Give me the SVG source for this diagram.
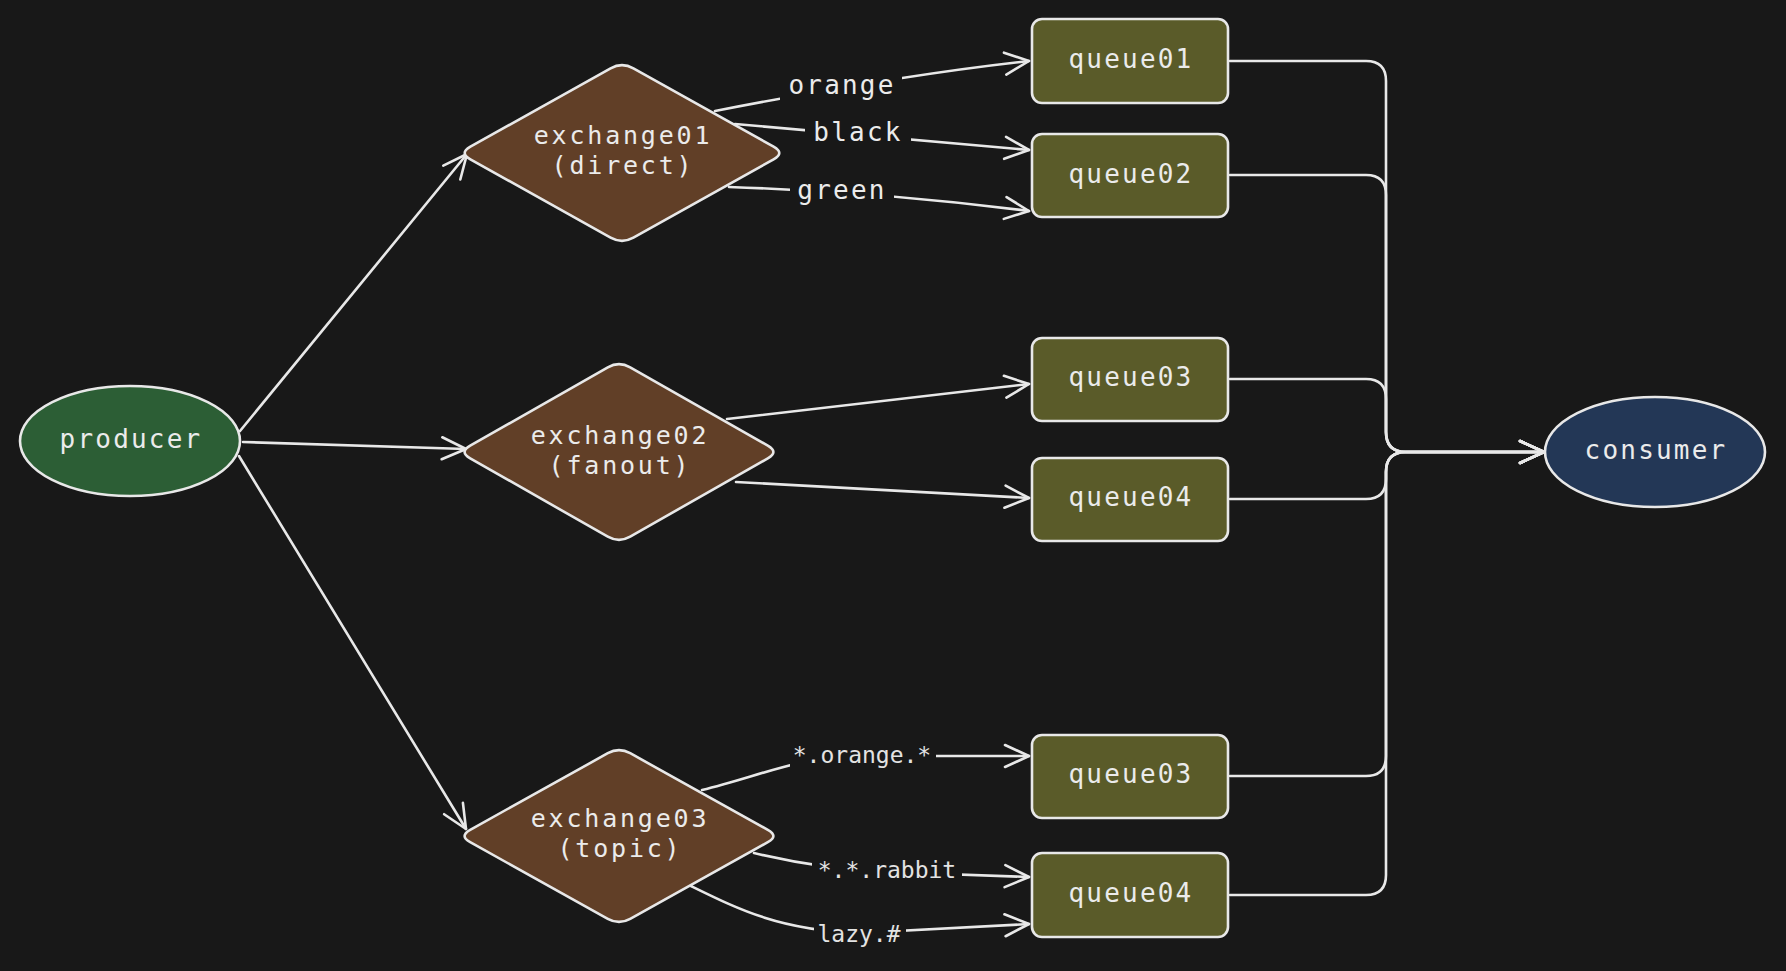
<svg xmlns="http://www.w3.org/2000/svg" width="1786" height="971" viewBox="0 0 1786 971">
<style>
.bg{fill:#181818}
.edge{fill:none;stroke:#e8e8e8;stroke-width:2.6;stroke-linecap:round;stroke-linejoin:round}
.node{stroke:#e8e8e8;stroke-width:2.6}
.t{font-family:"DejaVu Sans Mono","Liberation Mono",monospace;font-size:26px;letter-spacing:2.2px;fill:#ebebeb;text-anchor:middle}
.tx{font-family:"DejaVu Sans Mono","Liberation Mono",monospace;font-size:25px;letter-spacing:2.8px;fill:#ebebeb;text-anchor:middle}
.ts{font-family:"DejaVu Sans Mono","Liberation Mono",monospace;font-size:23px;fill:#e3e3e3;text-anchor:middle}
.lb{fill:#181818}
</style>
<defs>
<marker id="arr" viewBox="0 0 28 26" refX="26" refY="13" markerWidth="28" markerHeight="26" orient="auto" markerUnits="userSpaceOnUse">
<path d="M2,2 L26,13 L2,24" fill="none" stroke="#e8e8e8" stroke-width="2.6" stroke-linecap="round" stroke-linejoin="round"/>
</marker>
</defs>
<rect class="bg" x="0" y="0" width="1786" height="971"/>

<g id="connectors">
<path class="edge" d="M240,431 L467,154" marker-end="url(#arr)"/>
<path class="edge" d="M243,442 L466,449" marker-end="url(#arr)"/>
<path class="edge" d="M239,456 L466,829" marker-end="url(#arr)"/>

<path class="edge" d="M715,111 Q900,75 1029,61" marker-end="url(#arr)"/>
<path class="edge" d="M735,124 L1029,150" marker-end="url(#arr)"/>
<path class="edge" d="M729,187 Q880,192 1029,211" marker-end="url(#arr)"/>

<path class="edge" d="M727,419 L1029,384" marker-end="url(#arr)"/>
<path class="edge" d="M736,482 L1029,498" marker-end="url(#arr)"/>

<path class="edge" d="M702,790 C760,776 800,756 862,756 L1029,756" marker-end="url(#arr)"/>
<path class="edge" d="M754,853 C800,864 840,870 887,872 L1029,877" marker-end="url(#arr)"/>
<path class="edge" d="M691,886 C740,910 780,930 859,933 L1029,924" marker-end="url(#arr)"/>

<path class="edge" d="M1230,61 L1366,61 Q1386,61 1386,81 L1386,432 Q1386,452 1406,452 L1544,452" marker-end="url(#arr)"/>
<path class="edge" d="M1230,175 L1366,175 Q1386,175 1386,195 L1386,432 Q1386,452 1406,452 L1544,452" marker-end="url(#arr)"/>
<path class="edge" d="M1230,379 L1366,379 Q1386,379 1386,399 L1386,432 Q1386,452 1406,452 L1544,452" marker-end="url(#arr)"/>
<path class="edge" d="M1230,499 L1366,499 Q1386,499 1386,479 L1386,472 Q1386,452 1406,452 L1544,452" marker-end="url(#arr)"/>
<path class="edge" d="M1230,776 L1366,776 Q1386,776 1386,756 L1386,472 Q1386,452 1406,452 L1544,452" marker-end="url(#arr)"/>
<path class="edge" d="M1230,895 L1366,895 Q1386,895 1386,875 L1386,472 Q1386,452 1406,452 L1544,452" marker-end="url(#arr)"/>

<g id="edge-labels">
<rect class="lb" x="780" y="68" width="122" height="34"/>
<text class="t" x="842" y="94">orange</text>
<rect class="lb" x="805" y="115" width="106" height="34"/>
<text class="t" x="858" y="141">black</text>
<rect class="lb" x="790" y="174" width="104" height="34"/>
<text class="t" x="842" y="199">green</text>
<rect class="lb" x="790" y="741" width="146" height="30"/>
<text class="ts" x="862" y="763">*.orange.*</text>
<rect class="lb" x="812" y="856" width="150" height="30"/>
<text class="ts" x="887" y="878">*.*.rabbit</text>
<rect class="lb" x="814" y="920" width="92" height="30"/>
<text class="ts" x="859" y="942">lazy.#</text>
</g>
</g>

<g id="producer">
<ellipse class="node" cx="130" cy="441" rx="110" ry="55" fill="#2c5e35"/>
<text class="t" x="131" y="448">producer</text>
</g>

<g id="exchange01">
<path class="node" fill="#613f27" d="M470.41,146.63 L610.59,68.37 Q622,62 633.41,68.37 L773.59,146.63 Q785,153 773.59,159.37 L633.41,237.63 Q622,244 610.59,237.63 L470.41,159.37 Q459,153 470.41,146.63 Z"/>
<text class="tx" x="623" y="144">exchange01</text>
<text class="tx" x="623" y="174">(direct)</text>
</g>

<g id="exchange02">
<path class="node" fill="#613f27" d="M470.2,445.63 L607.8,367.37 Q619,361 630.2,367.37 L767.8,445.63 Q779,452 767.8,458.37 L630.2,536.63 Q619,543 607.8,536.63 L470.2,458.37 Q459,452 470.2,445.63 Z"/>
<text class="tx" x="620" y="444">exchange02</text>
<text class="tx" x="620" y="474">(fanout)</text>
</g>

<g id="exchange03">
<path class="node" fill="#613f27" d="M470.2,829.77 L607.8,753.23 Q619,747 630.2,753.23 L767.8,829.77 Q779,836 767.8,842.23 L630.2,918.77 Q619,925 607.8,918.77 L470.2,842.23 Q459,836 470.2,829.77 Z"/>
<text class="tx" x="620" y="827">exchange03</text>
<text class="tx" x="620" y="857">(topic)</text>
</g>

<g id="queue01">
<rect class="node" x="1032" y="19" width="196" height="84" rx="10" fill="#5a5b29"/>
<text class="t" x="1131" y="68">queue01</text>
</g>
<g id="queue02">
<rect class="node" x="1032" y="134" width="196" height="83" rx="10" fill="#5a5b29"/>
<text class="t" x="1131" y="183">queue02</text>
</g>
<g id="queue03a">
<rect class="node" x="1032" y="338" width="196" height="83" rx="10" fill="#5a5b29"/>
<text class="t" x="1131" y="386">queue03</text>
</g>
<g id="queue04a">
<rect class="node" x="1032" y="458" width="196" height="83" rx="10" fill="#5a5b29"/>
<text class="t" x="1131" y="506">queue04</text>
</g>
<g id="queue03b">
<rect class="node" x="1032" y="735" width="196" height="83" rx="10" fill="#5a5b29"/>
<text class="t" x="1131" y="783">queue03</text>
</g>
<g id="queue04b">
<rect class="node" x="1032" y="853" width="196" height="84" rx="10" fill="#5a5b29"/>
<text class="t" x="1131" y="902">queue04</text>
</g>

<g id="consumer">
<ellipse class="node" cx="1655" cy="452" rx="110" ry="55" fill="#233756"/>
<text class="t" x="1656" y="459">consumer</text>
</g>
</svg>
